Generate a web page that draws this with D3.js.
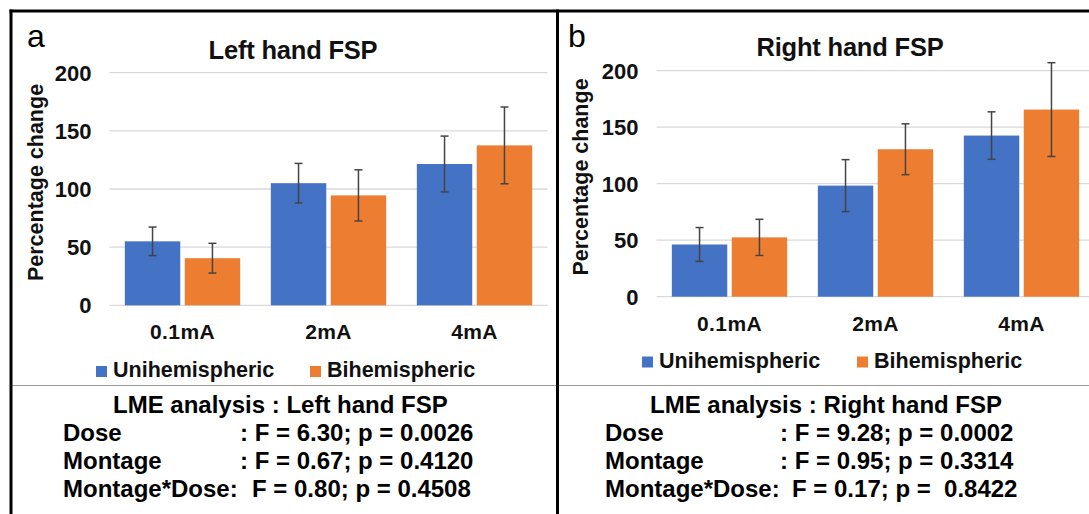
<!DOCTYPE html>
<html>
<head>
<meta charset="utf-8">
<script src="https://cdn.jsdelivr.net/npm/d3@7"></script>
<style>
  html, body { margin: 0; padding: 0; background: #fff; }
  svg { display: block; }
  text { font-family: "Liberation Sans", Arial, sans-serif; }
</style>
</head>
<body>
<svg id="chart" width="1089" height="514"></svg>
<script>
// ---------------- DATA ----------------
const categories = ["0.1mA", "2mA", "4mA"];
const seriesNames = ["Unihemispheric", "Bihemispheric"];
const yTicks = [0, 50, 100, 150, 200];

const leftUni     = [55, 105, 121.5];
const leftUniErr  = [12.3, 17, 24];
const leftBi      = [40.5, 94.5, 137.5];
const leftBiErr   = [12.8, 22, 33];

const rightUni    = [46.2, 98.3, 142.6];
const rightUniErr = [15, 23, 21];
const rightBi     = [52.5, 130.5, 165.6];
const rightBiErr  = [16, 22.5, 41.5];

const leftTitle  = "Left hand FSP";
const rightTitle = "Right hand FSP";
const yLabel = "Percentage change";

const leftStats = {
  title: "LME analysis : Left hand FSP",
  rows: [
    ["Dose", ": F = 6.30; p = 0.0026"],
    ["Montage", ": F = 0.67; p = 0.4120"],
    ["Montage*Dose:", "F = 0.80; p = 0.4508"]
  ]
};
const rightStats = {
  title: "LME analysis : Right hand FSP",
  rows: [
    ["Dose", ": F = 9.28; p = 0.0002"],
    ["Montage", ": F = 0.95; p = 0.3314"],
    ["Montage*Dose:", "F = 0.17; p =  0.8422"]
  ]
};

// ---------------- STYLE ----------------
const colors = ["#4472C4", "#ED7D31"];
const svg = d3.select("#chart");

function drawPanel(cfg) {
  const g = svg.append("g");
  const x0 = d3.scaleBand().domain(categories)
    .range([cfg.x0, cfg.x1]).paddingInner(0.21).paddingOuter(0.105);
  const x1 = d3.scaleBand().domain(seriesNames)
    .range([0, x0.bandwidth()]).paddingInner(0.075);
  const y = d3.scaleLinear().domain([0, 200]).range([cfg.yBottom, cfg.yTop]);

  // gridlines
  g.append("g").selectAll("line").data(yTicks).join("line")
    .attr("x1", cfg.x0).attr("x2", cfg.x1)
    .attr("y1", d => y(d)).attr("y2", d => y(d))
    .attr("stroke", "#d9d9d9").attr("stroke-width", 1.3);

  // y tick labels
  g.append("g").selectAll("text").data(yTicks).join("text")
    .attr("x", cfg.x0 - 18).attr("y", d => y(d))
    .attr("dy", "0.36em").attr("text-anchor", "end")
    .attr("font-size", 22).attr("font-weight", "bold").attr("fill", "#111")
    .text(d => d);

  // y axis title
  g.append("text")
    .attr("transform", `translate(${cfg.yLabelX},${cfg.yLabelY}) rotate(-90)`)
    .attr("text-anchor", "middle").attr("dy", "0.35em")
    .attr("font-size", 21.5).attr("font-weight", "bold").attr("fill", "#111")
    .text(yLabel);

  // bars
  const seriesData = [
    { name: seriesNames[0], vals: cfg.uni, errs: cfg.uniErr, color: colors[0] },
    { name: seriesNames[1], vals: cfg.bi, errs: cfg.biErr, color: colors[1] }
  ];
  seriesData.forEach(s => {
    const rows = categories.map((c, i) => ({ c, v: s.vals[i], e: s.errs[i] }));
    g.append("g").selectAll("rect").data(rows).join("rect")
      .attr("x", d => x0(d.c) + x1(s.name))
      .attr("y", d => y(d.v))
      .attr("width", x1.bandwidth())
      .attr("height", d => y(0) - y(d.v))
      .attr("fill", s.color);
    const eb = g.append("g").attr("stroke", "#444").attr("stroke-width", 1.5);
    rows.forEach(d => {
      const cx = x0(d.c) + x1(s.name) + x1.bandwidth() / 2;
      eb.append("line").attr("x1", cx).attr("x2", cx)
        .attr("y1", y(d.v + d.e)).attr("y2", y(d.v - d.e));
      [d.v + d.e, d.v - d.e].forEach(t => {
        eb.append("line").attr("x1", cx - 4).attr("x2", cx + 4)
          .attr("y1", y(t)).attr("y2", y(t));
      });
    });
  });

  // category labels
  g.append("g").selectAll("text").data(categories).join("text")
    .attr("x", d => x0(d) + x0.bandwidth() / 2)
    .attr("y", cfg.catY).attr("text-anchor", "middle")
    .attr("font-size", 21).attr("font-weight", "bold").attr("fill", "#111")
    .attr("letter-spacing", 0.4)
    .text(d => d);

  // legend
  const lg = g.append("g");
  seriesNames.forEach((n, i) => {
    lg.append("rect").attr("x", cfg.legX[i]).attr("y", cfg.legY - 11)
      .attr("width", 11).attr("height", 11).attr("fill", colors[i]);
    lg.append("text").attr("x", cfg.legX[i] + 17).attr("y", cfg.legY)
      .attr("font-size", 21.5).attr("font-weight", "bold").attr("fill", "#111")
      .text(n);
  });

  // title
  g.append("text").attr("x", cfg.titleX).attr("y", cfg.titleY)
    .attr("text-anchor", "middle").attr("font-size", 25.5)
    .attr("font-weight", "bold").attr("fill", "#111").attr("letter-spacing", -0.2)
    .text(cfg.title);

  // panel letter
  g.append("text").attr("x", cfg.letterX).attr("y", 47)
    .attr("font-size", 32).attr("fill", "#000").text(cfg.letter);

  // stats
  const st = g.append("g").attr("font-weight", "bold").attr("font-size", 24).attr("fill", "#000");
  st.append("text").attr("x", cfg.statTitleX).attr("y", 413).text(cfg.stats.title);
  const rowY = [441, 469, 497];
  cfg.stats.rows.forEach((r, i) => {
    st.append("text").attr("x", cfg.statLabelX).attr("y", rowY[i]).text(r[0]);
    st.append("text").attr("x", i === 2 ? cfg.statValX + 12 : cfg.statValX)
      .attr("y", rowY[i]).style("white-space", "pre").text(r[1]);
  });
}

drawPanel({
  x0: 109.5, x1: 547.5, yBottom: 305.3, yTop: 72.7,
  uni: leftUni, uniErr: leftUniErr, bi: leftBi, biErr: leftBiErr,
  yLabelX: 35, yLabelY: 182.5, catY: 338.5,
  legX: [96, 310], legY: 377,
  title: leftTitle, titleX: 293, titleY: 58.5,
  letter: "a", letterX: 27,
  stats: leftStats, statTitleX: 113, statLabelX: 63, statValX: 240
});

drawPanel({
  x0: 656.5, x1: 1094.5, yBottom: 296.7, yTop: 70.7,
  uni: rightUni, uniErr: rightUniErr, bi: rightBi, biErr: rightBiErr,
  yLabelX: 580, yLabelY: 177, catY: 330.5,
  legX: [642, 857], legY: 367.5,
  title: rightTitle, titleX: 850, titleY: 56,
  letter: "b", letterX: 568,
  stats: rightStats, statTitleX: 650, statLabelX: 605, statValX: 780
});

// frame lines
svg.append("line").attr("x1", 9.5).attr("x2", 1089).attr("y1", 11).attr("y2", 11)
  .attr("stroke", "#000").attr("stroke-width", 3);
svg.append("line").attr("x1", 11).attr("x2", 11).attr("y1", 9.5).attr("y2", 514)
  .attr("stroke", "#000").attr("stroke-width", 3);
svg.append("line").attr("x1", 557.5).attr("x2", 557.5).attr("y1", 9.5).attr("y2", 514)
  .attr("stroke", "#000").attr("stroke-width", 3);
svg.append("line").attr("x1", 12.5).attr("x2", 1089).attr("y1", 385.5).attr("y2", 385.5)
  .attr("stroke", "#333").attr("stroke-width", 1).attr("stroke-dasharray", "1,1");
</script>
</body>
</html>
